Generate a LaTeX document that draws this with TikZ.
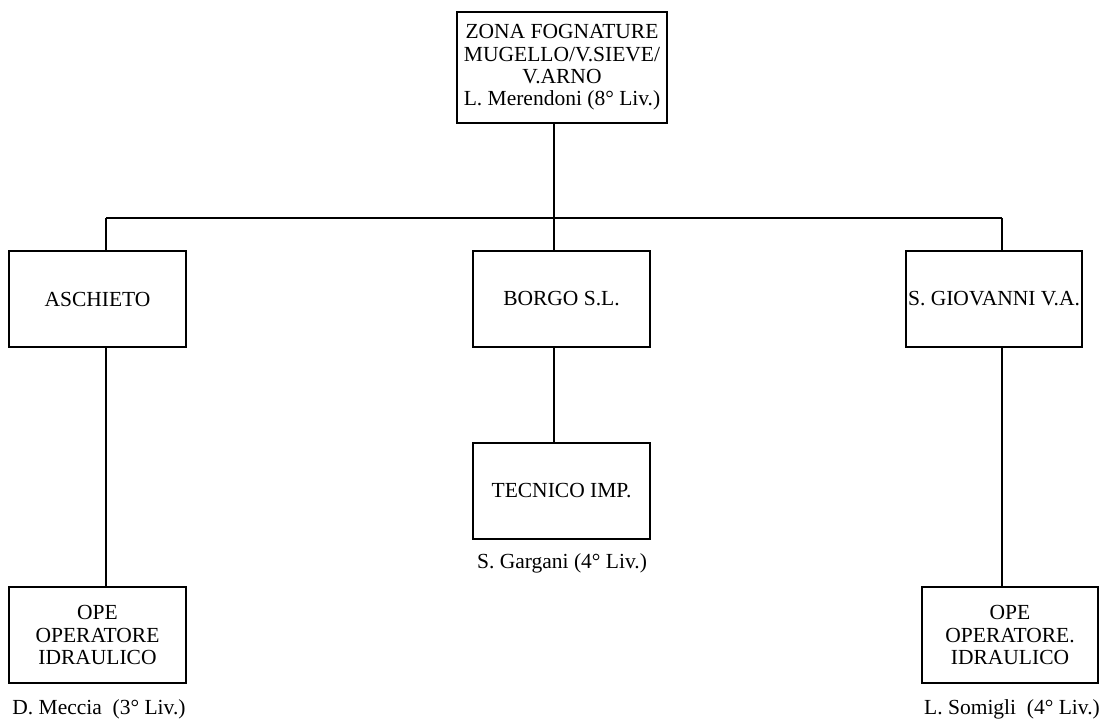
\documentclass[tikz,border=0pt]{standalone}
\usepackage{fontspec}
\setmainfont{Liberation Serif}
\begin{document}
\begin{tikzpicture}[x=1pt,y=1pt]
   \tikzstyle{box} = [draw, line width=1.9pt, inner sep=0pt, align=center, minimum width=177pt, minimum height=96pt, font=\fontsize{21.5}{22.4}\selectfont]
   \tikzstyle{who} = [anchor=base, inner sep=0pt, font=\fontsize{21.5}{22.4}\selectfont]
   \tikzstyle{line} = [draw, line width=1.9pt]
   \useasboundingbox (0,0) rectangle (1106,-720);

   \node[box, minimum width=210pt, minimum height=111pt] (zona) at (562,-67.5) {ZONA FOGNATURE\\MUGELLO/V.SIEVE/\\V.ARNO\\L. Merendoni (8° Liv.)};
   \node[box] (aschieto) at (97.5,-299)  {ASCHIETO};
   \node[box] (borgo) at (561.5,-299)  {BORGO S.L.};
   \node[box, minimum width=176pt] (giovanni) at (994,-299)  {S. GIOVANNI V.A.};
   \node[box] (tecnico) at (561.5,-491)  {TECNICO IMP.};
   \node[box] (opeL) at (97.5,-635)  {OPE\\OPERATORE\\IDRAULICO};
   \node[box, minimum width=176pt] (opeR) at (1010,-635)  {OPE\\OPERATORE.\\IDRAULICO};

   \node[who] (gargani) at (562,-568)  {S. Gargani (4° Liv.)};
   \node[who] (meccia) at (99,-714)  {D. Meccia\ \ (3° Liv.)};
   \node[who] (somigli) at (1012,-714)  {L. Somigli\ \ (4° Liv.)};

   \coordinate (busL) at (106,-218);
   \coordinate (busM) at (554,-218);
   \coordinate (busR) at (1002,-218);

   \path [line] (busM |- zona.south) -- (busM);
   \path [line] (busL) -- (busR);

   \path [line] (busL) -- (busL |- aschieto.north);
   \path [line] (busM) -- (busM |- borgo.north);
   \path [line] (busR) -- (busR |- giovanni.north);

   \path [line] (busL |- aschieto.south) -- (busL |- opeL.north);
   \path [line] (busM |- borgo.south) -- (busM |- tecnico.north);
   \path [line] (busR |- giovanni.south) -- (busR |- opeR.north);
 \end{tikzpicture}
\end{document}
